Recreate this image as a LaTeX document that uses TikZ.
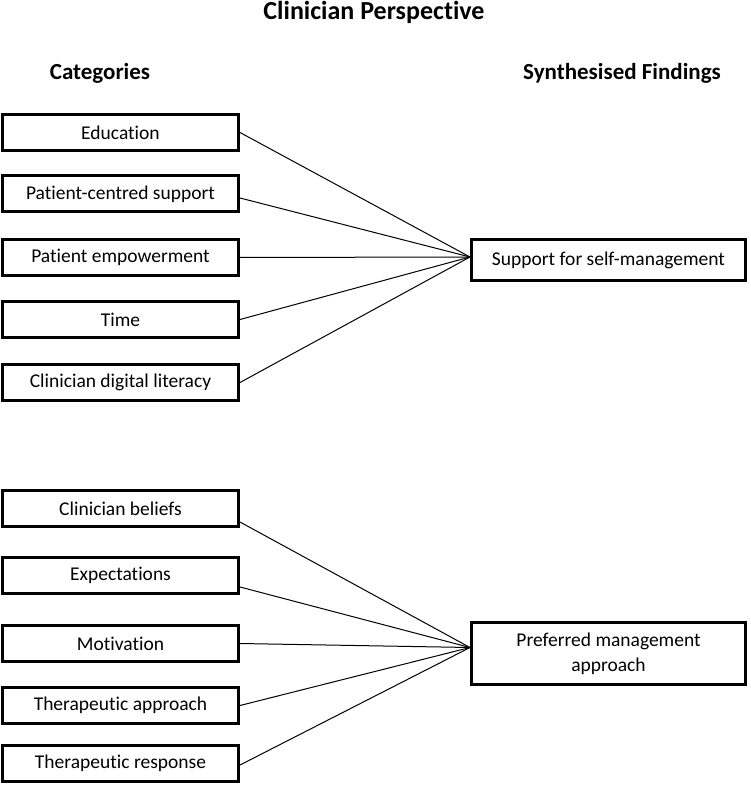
\documentclass[tikz,border=0pt]{standalone}
\usepackage{fontspec}
\setmainfont{Carlito}[Ligatures=CommonOff]
\begin{document}
\begin{tikzpicture}[x=1pt,y=-1pt,
  catbox/.style={draw, line width=3pt, minimum width=236pt, minimum height=36pt, inner sep=0pt, font=\fontsize{19.5}{23}\selectfont},
  findbox/.style={draw, line width=3pt, minimum width=274pt, inner sep=0pt, align=center, font=\fontsize{19.5}{25}\selectfont},
  head/.style={anchor=base, inner sep=0pt, font=\bfseries\fontsize{23}{27}\selectfont},
  link/.style={line width=1pt}]
\useasboundingbox (0,0) rectangle (750,786);
% headings
\node[head, font=\bfseries\fontsize{26}{30}\selectfont] (title) at (374,19.5) {Clinician Perspective};
\node[head] (cat) at (100,79.5) {Categories};
\node[head] (syn) at (622,79.5) {Synthesised Findings};
% group 1
\node[catbox] (c1) at (120.5,132.5) {Education};
\node[catbox] (c2) at (120.5,194) {Patient-centred support};
\node[catbox] (c3) at (120.5,257.5) {Patient empowerment};
\node[catbox] (c4) at (120.5,319.5) {Time};
\node[catbox] (c5) at (120.5,382.5) {Clinician digital literacy};
\node[findbox, minimum height=41pt] (f1) at (608.5,260) {Support for self-management};
\coordinate (j1) at ([yshift=3pt]f1.west);
% group 2
\node[catbox] (d1) at (120.5,508.5) {Clinician beliefs};
\node[catbox] (d2) at (120.5,575.5) {Expectations};
\node[catbox] (d3) at (120.5,643.5) {Motivation};
\node[catbox] (d4) at (120.5,705.5) {Therapeutic approach};
\node[catbox] (d5) at (120.5,763.5) {Therapeutic response};
\node[findbox, minimum height=62pt] (f2) at (608.5,653.5) {Preferred management\\approach};
\coordinate (j2) at ([yshift=6pt]f2.west);
% connectors
\draw[link] (c1.east) -- (j1);
\draw[link] ([yshift=-4pt]c2.east) -- (j1);
\draw[link] (c3.east) -- (j1);
\draw[link] (c4.east) -- (j1);
\draw[link] (c5.east) -- (j1);
\draw[link] ([yshift=-13.5pt]d1.east) -- (j2);
\draw[link] ([yshift=-11.5pt]d2.east) -- (j2);
\draw[link] (d3.east) -- (j2);
\draw[link] (d4.east) -- (j2);
\draw[link] ([yshift=-1.5pt]d5.east) -- (j2);
\end{tikzpicture}
\end{document}
